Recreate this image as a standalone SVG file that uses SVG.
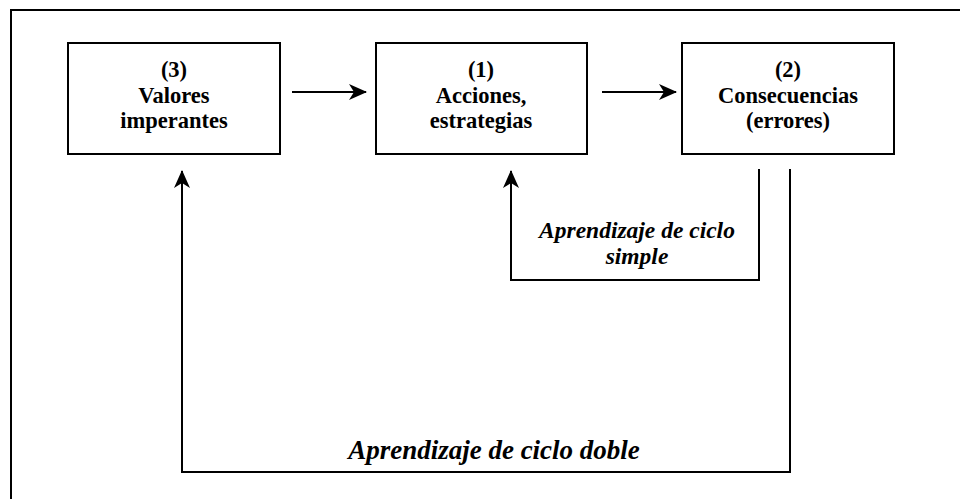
<svg xmlns="http://www.w3.org/2000/svg" width="960" height="499" viewBox="0 0 960 499">
<defs>
<marker id="ah" markerWidth="18" markerHeight="16" refX="17" refY="8" orient="auto" markerUnits="userSpaceOnUse">
<path d="M0,0 L18,8 L0,16 L5,8 Z" fill="#000"/>
</marker>
<style>
.box{fill:#fff;stroke:#000;stroke-width:2}
.t{font-family:"Liberation Serif","Times New Roman",serif;font-weight:bold;font-size:22.5px;text-anchor:middle;fill:#000}
.it{font-family:"Liberation Serif","Times New Roman",serif;font-weight:bold;font-style:italic;text-anchor:middle;fill:#000}
.ln{fill:none;stroke:#000;stroke-width:2}
</style>
</defs>
<rect width="960" height="499" fill="#fff"/>
<path d="M11,499 V10 H960" class="ln"/>
<g id="n3">
<rect class="box" x="68" y="43" width="212" height="111"/>
<text class="t" x="174" y="77">(3)</text>
<text class="t" x="174" y="103">Valores</text>
<text class="t" x="174" y="128">imperantes</text>
</g>
<g id="n1">
<rect class="box" x="376" y="43" width="211" height="111"/>
<text class="t" x="481" y="77">(1)</text>
<text class="t" x="481" y="103">Acciones,</text>
<text class="t" x="481" y="128">estrategias</text>
</g>
<g id="n2">
<rect class="box" x="682" y="43" width="212" height="111"/>
<text class="t" x="788" y="77">(2)</text>
<text class="t" x="788" y="103">Consecuencias</text>
<text class="t" x="788" y="128">(errores)</text>
</g>
<g id="connectors">
<line class="ln" x1="292" y1="92" x2="366" y2="92" marker-end="url(#ah)"/>
<line class="ln" x1="602" y1="92" x2="676" y2="92" marker-end="url(#ah)"/>
<polyline class="ln" points="759,169 759,280 511,280 511,171" marker-end="url(#ah)"/>
<polyline class="ln" points="790,169 790,472 182,472 182,171" marker-end="url(#ah)"/>
</g>
<text class="it" x="637" y="238" font-size="23.5">Aprendizaje de ciclo</text>
<text class="it" x="637" y="264" font-size="23.5">simple</text>
<text class="it" x="494" y="459" font-size="27">Aprendizaje de ciclo doble</text>
</svg>
